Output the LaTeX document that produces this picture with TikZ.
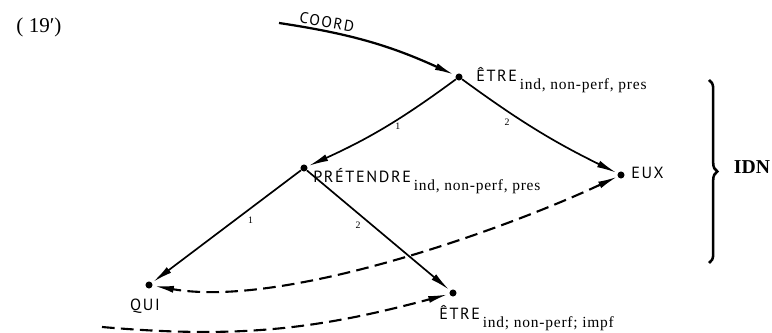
\documentclass[tikz,border=0pt]{standalone}
\usepackage{fontspec}
\setmainfont{Liberation Serif}
\newfontfamily\capfont[LetterSpace=10]{PT Sans}
\newfontfamily\gramfont[LetterSpace=5]{Liberation Serif}
\usetikzlibrary{arrows.meta,decorations.pathreplacing,positioning}
\tikzset{>={Latex[length=14pt,width=5pt]}}
\tikzstyle{line} = [draw, ->, line width=1.2pt, shorten >=1pt]
\tikzstyle{coref} = [line, line width=1.5pt, dash pattern=on 9pt off 4.5pt]
\tikzstyle{dot} = [circle, fill, inner sep=0pt, minimum size=5pt]
\tikzstyle{lab} = [inner sep=0pt, font=\capfont\fontsize{11.5}{13}\selectfont]
\tikzstyle{num} = [inner sep=2pt, font=\fontsize{7}{8}\selectfont]
\newcommand{\gram}[1]{\hspace{2pt}\raisebox{-5.5pt}{\gramfont\fontsize{11}{13}\selectfont #1}}

\begin{document}
\begin{tikzpicture}[x=0.025cm, y=0.025cm]
	\useasboundingbox (0,0) rectangle (772,333);

	% nodes
	\node[dot] (etreA) at (459,256) {};
	\node[dot] (pretendre) at (304,165) {};
	\node[dot] (eux) at (621,158) {};
	\node[dot] (qui) at (149,48) {};
	\node[dot] (etreB) at (453,40) {};
	\coordinate (coordin) at (279,310);
	\coordinate (tail) at (102,6);
	\coordinate (braceTop) at (709,253);
	\coordinate (braceBot) at (709,70);

	% labels
	\node[lab, anchor=base west] (etreAlab) at ([shift={(17,-5)}]etreA) {ÊTRE\gram{ind, non-perf, pres}};
	\node[lab, anchor=base west] (pretendrelab) at ([shift={(9,-15)}]pretendre) {PRÉTENDRE\gram{ind, non-perf, pres}};
	\node[lab, anchor=base west] (euxlab) at ([shift={(10,-4)}]eux) {EUX};
	\node[lab, anchor=base] (quilab) at ([shift={(-4,-26)}]qui) {QUI};
	\node[lab, anchor=base west] (etreBlab) at ([shift={(-14,-27)}]etreB) {ÊTRE\gram{ind; non-perf; impf}};
	\node[lab, rotate=-10, font=\capfont\fontsize{11}{12}\selectfont] (coordlab) at (327,311) {COORD};
	\node[font=\fontsize{15}{18}\selectfont] (num) at (39,306) {( 19′)};
	\node[font=\bfseries\fontsize{14}{16}\selectfont] (idn) at (752,166) {IDN};

	% arrows
	\draw[line, line width=1.6pt] (coordin) to[bend left=8] (etreA);
	\draw[line] (etreA) to[bend left=6] node[num, pos=.4, below] (rA) {1} (pretendre);
	\draw[line] (etreA) to[bend right=5] node[num, pos=.33, below left] (rB) {2} (eux);
	\draw[line] (pretendre) -- node[num, pos=.38, below right] (rC) {1} (qui);
	\draw[line] (pretendre) -- node[num, pos=.4, below left] (rD) {2} (etreB);

	% coreference
	\draw[coref, <->] (eux) to[out=205, in=-10, looseness=0.7] (qui);
	\draw[coref] (tail) to[out=-5, in=195] (etreB);

	% brace
	\draw[decorate, decoration={brace, amplitude=6pt}, line width=1.8pt] (braceTop) -- (braceBot);

\end{tikzpicture}
\end{document}
